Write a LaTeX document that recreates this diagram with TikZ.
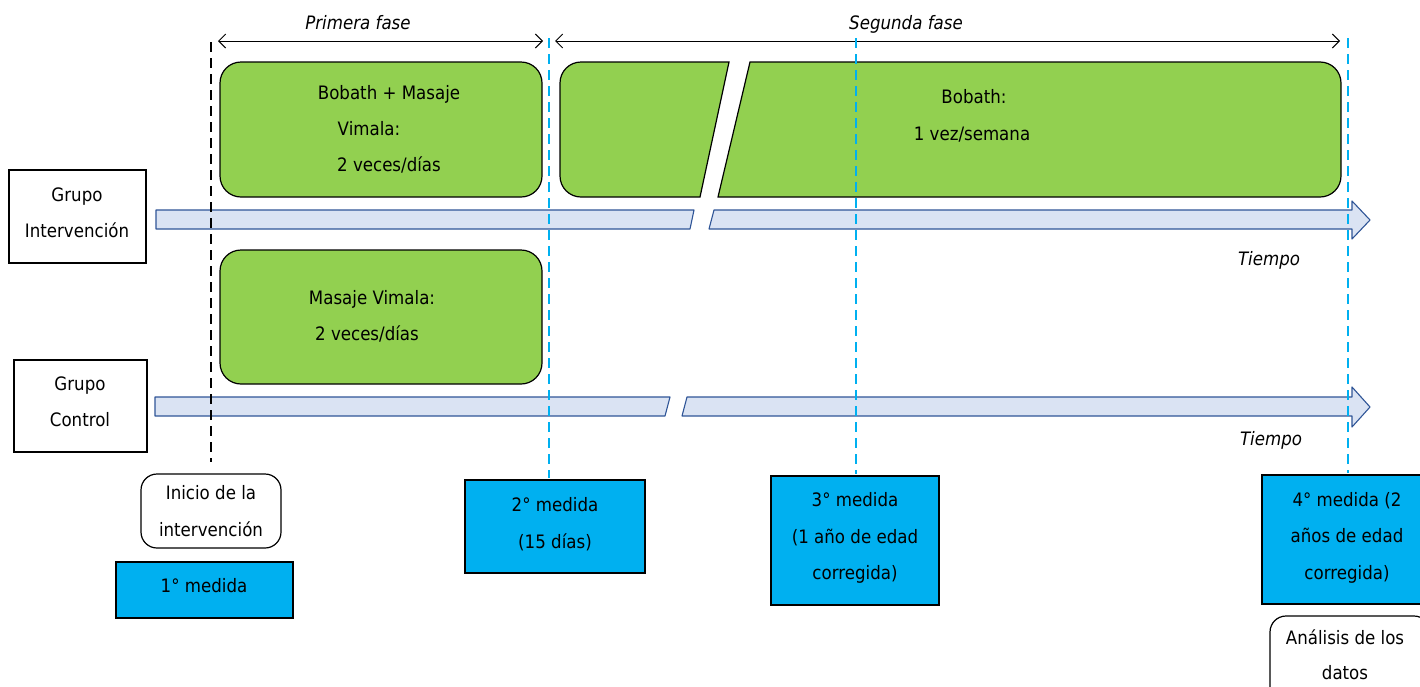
\documentclass[tikz,border=0pt]{standalone}
\usepackage{fontspec}
\setmainfont{DejaVu Sans}[FakeStretch=0.9]
\usetikzlibrary{arrows.meta}
\definecolor{grn}{HTML}{92D050}
\definecolor{cyn}{HTML}{00B0F0}
\definecolor{barfill}{HTML}{DAE3F3}
\definecolor{barline}{HTML}{2F5597}
\begin{document}
\begin{tikzpicture}[x=1pt,y=-1pt,
  every node/.style={font=\fontsize{18.5}{22}\selectfont, inner sep=0pt, outer sep=0pt},
  txt/.style={anchor=base},
  itxt/.style={anchor=base, font=\fontsize{18.5}{22}\selectfont\itshape},
  greenbox/.style={draw=black, fill=grn, line width=1.2pt},
  bar/.style={draw=barline, fill=barfill, line width=1.1pt, line join=round},
  medbox/.style={draw=black, fill=cyn, line width=1.2pt, anchor=north west},
  whitebox/.style={draw=black, fill=white, line width=1.2pt, anchor=north west},
  blackdash/.style={draw=black, line width=2.5pt, dash pattern=on 10pt off 6pt},
  cyandash/.style={draw=cyn, line width=2.5pt, dash pattern=on 10pt off 6pt},
  phase/.style={line width=1pt, {Straight Barb[length=7pt,width=14pt]}-{Straight Barb[length=7pt,width=14pt]}}
]
\useasboundingbox (0,0) rectangle (1420,686);
\clip (0,0) rectangle (1420,686);

% phase arrows
\coordinate (p1a) at (218,41); \coordinate (p1b) at (543,41);
\coordinate (p2a) at (555,41); \coordinate (p2b) at (1340,41);
\draw[phase] (p1a) -- (p1b);
\draw[phase] (p2a) -- (p2b);
\node[itxt] (f1) at (358,29) {Primera fase};
\node[itxt] (f2) at (906,29) {Segunda fase};

% green boxes
\draw[greenbox, rounded corners=21pt] (220,62) rectangle (542,197);
\node[txt] (g1a) at (389,99) {Bobath + Masaje};
\node[txt] (g1b) at (369,135) {Vimala:};
\node[txt] (g1c) at (389,171) {2 veces/días};

\draw[greenbox] (729,62) -- (581,62) arc[start angle=270,end angle=180,radius=21]
  -- (560,176) arc[start angle=180,end angle=90,radius=21] -- (700,197) -- cycle;
\draw[greenbox] (750,62) -- (1320,62) arc[start angle=270,end angle=360,radius=21]
  -- (1341,176) arc[start angle=0,end angle=90,radius=21] -- (718,197) -- cycle;
\node[txt] (g2a) at (974,103) {Bobath:};
\node[txt] (g2b) at (972,140) {1 vez/semana};

\draw[greenbox, rounded corners=21pt] (220,250) rectangle (542,384);
\node[txt] (g3a) at (372,304) {Masaje Vimala:};
\node[txt] (g3b) at (367,340) {2 veces/días};

% time bars
\draw[bar] (156,210) -- (694,210) -- (690,229) -- (156,229) -- cycle;
\draw[bar] (714,210) -- (1352,210) -- (1352,201) -- (1370,220) -- (1352,239) -- (1352,229) -- (709,229) -- cycle;
\draw[bar] (155,397) -- (670,397) -- (665,416) -- (155,416) -- cycle;
\draw[bar] (687,397) -- (1352,397) -- (1352,387) -- (1370,407) -- (1352,427) -- (1352,416) -- (682,416) -- cycle;
\node[itxt] (t1) at (1269,265) {Tiempo};
\node[itxt] (t2) at (1271,445) {Tiempo};

% group boxes
\node[whitebox, minimum width=137pt, minimum height=93pt] (gi) at (9,170) {};
\node[txt] (gi1) at (77,201) {Grupo};
\node[txt] (gi2) at (77,237) {Intervención};
\node[whitebox, minimum width=133pt, minimum height=92pt] (gc) at (14,360) {};
\node[txt] (gc1) at (80,390) {Grupo};
\node[txt] (gc2) at (80,426) {Control};

% bottom boxes
\node[whitebox, rounded corners=16pt, minimum width=140pt, minimum height=74pt] (ini) at (141,474) {};
\node[txt] (ini1) at (211,499) {Inicio de la};
\node[txt] (ini2) at (211,536) {intervención};
\node[medbox, minimum width=177pt, minimum height=56pt] (m1) at (116,562) {};
\node[txt] (m1t) at (204,592) {1° medida};
\node[medbox, minimum width=180pt, minimum height=93pt] (m2) at (465,480) {};
\node[txt] (m2a) at (555,511) {2° medida};
\node[txt] (m2b) at (555,548) {(15 días)};
\node[medbox, minimum width=168pt, minimum height=129pt] (m3) at (771,476) {};
\node[txt] (m3a) at (855,506) {3° medida};
\node[txt] (m3b) at (855,543) {(1 año de edad};
\node[txt] (m3c) at (855,579) {corregida)};
\node[medbox, minimum width=165pt, minimum height=129pt] (m4) at (1262,475) {};
\node[txt] (m4a) at (1347,506) {4° medida (2};
\node[txt] (m4b) at (1347,542) {años de edad};
\node[txt] (m4c) at (1347,579) {corregida)};
\node[whitebox, rounded corners=16pt, minimum width=160pt, minimum height=90pt] (an) at (1270,616) {};
\node[txt] (an1) at (1345,644) {Análisis de los};
\node[txt] (an2) at (1345,679) {datos};

% dashed time markers
\coordinate (d0a) at (211,42); \coordinate (d0b) at (211,462);
\coordinate (d1a) at (549,38); \coordinate (d1b) at (549,478);
\coordinate (d2a) at (856,38); \coordinate (d2b) at (856,474);
\coordinate (d3a) at (1348,38); \coordinate (d3b) at (1348,473);
\draw[blackdash] (d0a) -- (d0b);
\draw[cyandash] (d1a) -- (d1b);
\draw[cyandash] (d2a) -- (d2b);
\draw[cyandash] (d3a) -- (d3b);
\end{tikzpicture}
\end{document}
